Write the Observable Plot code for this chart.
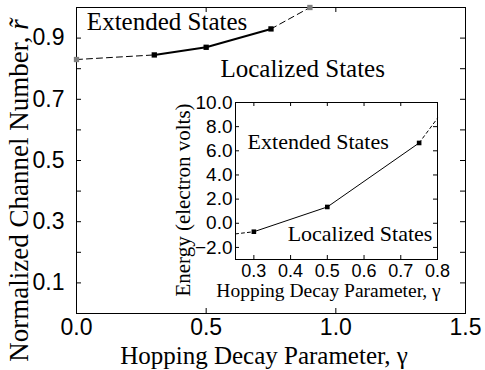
<!DOCTYPE html>
<html><head><meta charset="utf-8">
<script src="https://cdn.jsdelivr.net/npm/d3@7"></script>
<script src="https://cdn.jsdelivr.net/npm/@observablehq/plot@0.6"></script>
<style>
body{margin:0;background:#fff;}
#wrap{position:relative;width:485px;height:370px;overflow:hidden;}
#wrap svg{position:absolute;overflow:visible;}
</style></head><body><div id="wrap"></div>
<script>
// ---- main chart data ----
const gamma = [0.3, 0.5, 0.75];
const channel = [0.845, 0.87, 0.93];
const gammaDashLeft = [0, 0.3];
const channelDashLeft = [0.83, 0.845];
const gammaDashRight = [0.75, 0.9];
const channelDashRight = [0.93, 1.0];
const gammaEnds = [0, 0.9];
const channelEnds = [0.83, 1.0];
const xTicks = [0, 0.5, 1.0, 1.5];
const yTickLabels = [0.1, 0.3, 0.5, 0.7, 0.9];
const yTickMarks = [0.1, 0.2, 0.3, 0.4, 0.5, 0.6, 0.7, 0.8, 0.9];
const mainLabels = ["Extended States", "Localized States"];
const mainLabelX = [0.04, 0.555];
const mainLabelY = [0.925, 0.772];

// ---- inset data ----
const insetGamma = [0.3, 0.5, 0.75];
const energy = [-0.7, 1.35, 6.65];
const insetDashLeftG = [0.25, 0.3];
const energyDashLeft = [-0.88, -0.7];
const insetDashRightG = [0.75, 0.8];
const energyDashRight = [6.65, 8.7];
const insetXTicks = [0.3, 0.4, 0.5, 0.6, 0.7, 0.8];
const insetYTicks = [-2, 0, 2, 4, 6, 8, 10];
const insetLabels = ["Extended States", "Localized States"];
const insetLabelX = [0.283, 0.392];
const insetLabelY = [6.19, -1.46];

const SERIF = "Liberation Serif";
const SANS = "Liberation Sans";
const zip = (xs, ys) => xs.map((x, i) => ({x, y: ys[i]}));

// ---- main ----
const W = 485, H = 370, mL = 76, mR = 20, mT = 7, mB = 57;
const iW = W - mL - mR, iH = H - mT - mB, tk = 5;
const main = Plot.plot({
  width: W, height: H, marginLeft: mL, marginRight: mR, marginTop: mT, marginBottom: mB,
  style: {background: "transparent", overflow: "visible"},
  x: {domain: [0, 1.5]},
  y: {domain: [0, 1]},
  marks: [
    Plot.tickY(yTickMarks, {y: d => d, insetRight: iW - tk, stroke: "black"}),
    Plot.tickY(yTickMarks, {y: d => d, insetLeft: iW - tk, stroke: "black"}),
    Plot.tickX(xTicks, {x: d => d, insetTop: iH - tk, stroke: "black"}),
    Plot.tickX(xTicks, {x: d => d, insetBottom: iH - tk, stroke: "black"}),
    Plot.axisY(yTickLabels, {tickSize: 0, tickPadding: 12, tickFormat: d => d.toFixed(1), fontSize: 23, fontFamily: SANS, label: null, fill: "black"}),
    Plot.axisX(xTicks, {tickSize: 0, tickPadding: 5, tickFormat: d => d.toFixed(1), fontSize: 23, fontFamily: SANS, label: null, fill: "black"}),
    Plot.frame({stroke: "black"}),
    Plot.line(zip(gammaDashLeft, channelDashLeft), {x: "x", y: "y", stroke: "black", strokeWidth: 1, strokeDasharray: "6,4"}),
    Plot.line(zip(gammaDashRight, channelDashRight), {x: "x", y: "y", stroke: "black", strokeWidth: 1, strokeDasharray: "6,4"}),
    Plot.line(zip(gamma, channel), {x: "x", y: "y", stroke: "black", strokeWidth: 2}),
    Plot.dot(zip(gamma, channel), {x: "x", y: "y", symbol: "square", r: 3, fill: "black"}),
    Plot.dot(zip(gammaEnds, channelEnds), {x: "x", y: "y", symbol: "square", r: 3, fill: "#808080"}),
    Plot.text(mainLabels, {x: (d, i) => mainLabelX[i], y: (d, i) => mainLabelY[i], text: d => d, textAnchor: "start", lineAnchor: "bottom", fontSize: 25, fontFamily: SERIF, fill: "black"}),
    Plot.text(["Hopping Decay Parameter, γ"], {frameAnchor: "bottom", textAnchor: "middle", dx: -7, dy: 50, lineAnchor: "bottom", fontSize: 25, fontFamily: SERIF, fill: "black"}),
    Plot.text(["Normalized Channel Number, r̃"], {frameAnchor: "left", textAnchor: "middle", rotate: -90, dx: -49, dy: 30, lineAnchor: "bottom", fontSize: 27, fontFamily: SERIF, fill: "black"})
  ]
});
main.style.left = "0px"; main.style.top = "0px";
document.getElementById("wrap").appendChild(main);

// ---- inset ----
const iL = 160, iT = 90, imL = 75, imT = 12, imR = 20, imB = 48;
const iiW = 202, iiH = 157, itk = 4;
const inset = Plot.plot({
  width: imL + iiW + imR, height: imT + iiH + imB,
  marginLeft: imL, marginRight: imR, marginTop: imT, marginBottom: imB,
  style: {background: "transparent", overflow: "visible"},
  x: {domain: [0.25, 0.8]},
  y: {domain: [-3, 10]},
  marks: [
    Plot.frame({fill: "white"}),
    Plot.tickY(insetYTicks, {y: d => d, insetRight: iiW - itk, stroke: "black"}),
    Plot.tickY(insetYTicks, {y: d => d, insetLeft: iiW - itk, stroke: "black"}),
    Plot.tickX(insetXTicks, {x: d => d, insetTop: iiH - itk, stroke: "black"}),
    Plot.tickX(insetXTicks, {x: d => d, insetBottom: iiH - itk, stroke: "black"}),
    Plot.axisY(insetYTicks, {tickSize: 0, tickPadding: 3, tickFormat: d => d.toFixed(1).replace("-", "\u2212"), fontSize: 19, fontFamily: SANS, label: null, fill: "black"}),
    Plot.axisX(insetXTicks, {tickSize: 0, tickPadding: 5, tickFormat: d => d.toFixed(1), fontSize: 18, fontFamily: SANS, label: null, fill: "black"}),
    Plot.frame({stroke: "black"}),
    Plot.line(zip(insetDashLeftG, energyDashLeft), {x: "x", y: "y", stroke: "black", strokeWidth: 1, strokeDasharray: "3,3"}),
    Plot.line(zip(insetDashRightG, energyDashRight), {x: "x", y: "y", stroke: "black", strokeWidth: 1, strokeDasharray: "3,3"}),
    Plot.line(zip(insetGamma, energy), {x: "x", y: "y", stroke: "black", strokeWidth: 1}),
    Plot.dot(zip(insetGamma, energy), {x: "x", y: "y", symbol: "square", r: 2.6, fill: "black"}),
    Plot.text(insetLabels, {x: (d, i) => insetLabelX[i], y: (d, i) => insetLabelY[i], text: d => d, textAnchor: "start", lineAnchor: "bottom", fontSize: 22, fontFamily: SERIF, fill: "black"}),
    Plot.text(["Hopping Decay Parameter, γ"], {frameAnchor: "bottom", textAnchor: "middle", dx: -8, dy: 37, lineAnchor: "bottom", fontSize: 19.5, fontFamily: SERIF, fill: "black"}),
    Plot.text(["Energy (electron volts)"], {frameAnchor: "left", textAnchor: "middle", rotate: -90, dx: -46, dy: 19, lineAnchor: "bottom", fontSize: 21, fontFamily: SERIF, fill: "black"})
  ]
});
inset.style.left = (iL) + "px"; inset.style.top = (iT) + "px";
document.getElementById("wrap").appendChild(inset);

// italic r-tilde in the main y label
d3.select(main).selectAll("text").each(function() {
  const t = d3.select(this);
  if (t.text() === "Normalized Channel Number, r̃") {
    t.text("Normalized Channel Number, ");
    t.append("tspan").attr("font-style", "italic").text("r̃");
  }
});
</script></body></html>
